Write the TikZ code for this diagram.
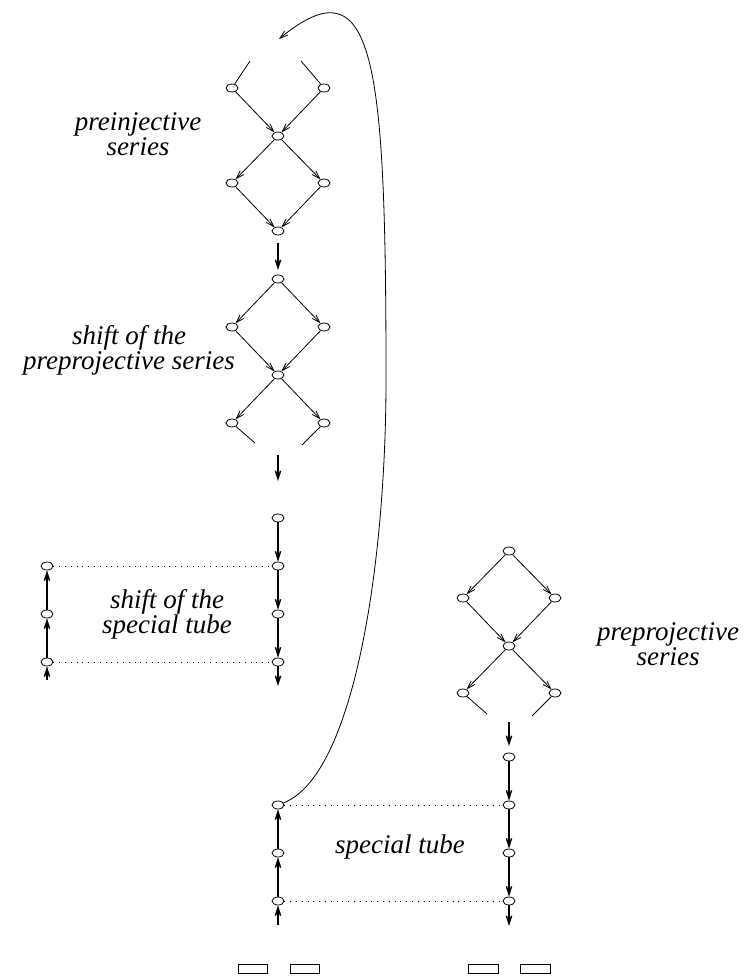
\documentclass[tikz,border=0pt]{standalone}
\usepackage{fontspec}
\setmainfont{Liberation Serif}
\usetikzlibrary{arrows.meta,shapes.geometric}

\begin{document}
\begin{tikzpicture}[x=0.5pt,y=-0.5pt,
    vtx/.style={draw,ellipse,inner sep=0pt,minimum width=6pt,minimum height=4pt,line width=0.4pt},
    arr/.style={-{Straight Barb[length=4pt,width=2.6pt]},line width=0.4pt},
    tubearr/.style={-{Straight Barb[length=4pt,width=2.6pt]},line width=0.7pt},
    link/.style={line width=0.5pt,dash pattern=on 0.5pt off 2.4pt},
    lbl/.style={font=\fontsize{13.5}{12.5}\selectfont\itshape,align=center}]
  \useasboundingbox (0,0) rectangle (747,978);

  % preinjective series
  \node[vtx] (i1) at (232,88) {};
  \node[vtx] (i2) at (324,88) {};
  \node[vtx] (i3) at (278,136) {};
  \node[vtx] (i4) at (232,183) {};
  \node[vtx] (i5) at (324,183) {};
  \node[vtx] (i6) at (278,231) {};
  \coordinate (i1t) at (250,61);
  \coordinate (i2t) at (301,61);
  \draw[line width=0.4pt] (i1t) -- (i1);
  \draw[line width=0.4pt] (i2t) -- (i2);
  \draw[arr] (i1) -- (i3);
  \draw[arr] (i2) -- (i3);
  \draw[arr] (i3) -- (i4);
  \draw[arr] (i3) -- (i5);
  \draw[arr] (i4) -- (i6);
  \draw[arr] (i5) -- (i6);
  \coordinate (ia) at (278,243);
  \coordinate (ib) at (278,270);
  \draw[tubearr] (ia) -- (ib);
  \node[lbl] (preinj) at (138,134) {preinjective\\series};

  % shift of the preprojective series
  \node[vtx] (p1) at (278,279) {};
  \node[vtx] (p2) at (232,327) {};
  \node[vtx] (p3) at (324,327) {};
  \node[vtx] (p4) at (278,375) {};
  \node[vtx] (p5) at (232,423) {};
  \node[vtx] (p6) at (324,423) {};
  \draw[arr] (p1) -- (p2);
  \draw[arr] (p1) -- (p3);
  \draw[arr] (p2) -- (p4);
  \draw[arr] (p3) -- (p4);
  \draw[arr] (p4) -- (p5);
  \draw[arr] (p4) -- (p6);
  \coordinate (p5b) at (255,443);
  \coordinate (p6b) at (302,445);
  \draw[line width=0.4pt] (p5) -- (p5b);
  \draw[line width=0.4pt] (p6) -- (p6b);
  \coordinate (pa) at (278,455);
  \coordinate (pb) at (278,481);
  \draw[tubearr] (pa) -- (pb);
  \node[lbl] (shiftpre) at (129,350) {shift of the\\preprojective series};

  % shift of the special tube
  \node[vtx] (s0) at (278,518) {};
  \node[vtx] (s1) at (278,566) {};
  \node[vtx] (s2) at (278,614) {};
  \node[vtx] (s3) at (278,662) {};
  \coordinate (sb) at (278,686);
  \draw[tubearr] (s0) -- (s1);
  \draw[tubearr] (s1) -- (s2);
  \draw[tubearr] (s2) -- (s3);
  \draw[tubearr] (s3) -- (sb);
  \node[vtx] (t1) at (47,566) {};
  \node[vtx] (t2) at (47,614) {};
  \node[vtx] (t3) at (47,662) {};
  \coordinate (tb) at (47,680);
  \draw[tubearr] (tb) -- (t3);
  \draw[tubearr] (t3) -- (t2);
  \draw[tubearr] (t2) -- (t1);
  \draw[link] (t1) -- (s1);
  \draw[link] (t3) -- (s3);
  \node[lbl] (shifttube) at (167,614) {shift of the\\special tube};

  % preprojective series
  \node[vtx] (q1) at (509,551) {};
  \node[vtx] (q2) at (463,598) {};
  \node[vtx] (q3) at (555,598) {};
  \node[vtx] (q4) at (509,646) {};
  \node[vtx] (q5) at (463,693) {};
  \node[vtx] (q6) at (555,693) {};
  \draw[arr] (q1) -- (q2);
  \draw[arr] (q1) -- (q3);
  \draw[arr] (q2) -- (q4);
  \draw[arr] (q3) -- (q4);
  \draw[arr] (q4) -- (q5);
  \draw[arr] (q4) -- (q6);
  \coordinate (q5b) at (487,714);
  \coordinate (q6b) at (532,716);
  \draw[line width=0.4pt] (q5) -- (q5b);
  \draw[line width=0.4pt] (q6) -- (q6b);
  \coordinate (qa) at (509,722);
  \coordinate (qb) at (509,746);
  \draw[tubearr] (qa) -- (qb);
  \node[lbl] (preproj) at (668,644) {preprojective\\series};

  % special tube
  \node[vtx] (r0) at (509,757) {};
  \node[vtx] (r1) at (509,805) {};
  \node[vtx] (r2) at (509,853) {};
  \node[vtx] (r3) at (509,901) {};
  \coordinate (rb) at (509,926);
  \draw[tubearr] (r0) -- (r1);
  \draw[tubearr] (r1) -- (r2);
  \draw[tubearr] (r2) -- (r3);
  \draw[tubearr] (r3) -- (rb);
  \node[vtx] (u1) at (278,805) {};
  \node[vtx] (u2) at (278,853) {};
  \node[vtx] (u3) at (278,901) {};
  \coordinate (ub) at (278,925);
  \draw[tubearr] (ub) -- (u3);
  \draw[tubearr] (u3) -- (u2);
  \draw[tubearr] (u2) -- (u1);
  \draw[link] (u1) -- (r1);
  \draw[link] (u3) -- (r3);
  \node[lbl] (tube) at (400,847) {special tube};

  % back to the top
  \coordinate (top) at (279,39);
  \draw[arr] (u1) .. controls (355,775) and (386,560) .. (386,380)
    .. controls (386,60) and (375,-40) .. (top);

  % boxes at the bottom
  \draw[line width=0.4pt] (238,964) rectangle (267,973);
  \draw[line width=0.4pt] (290,964) rectangle (319,973);
  \draw[line width=0.4pt] (468,964) rectangle (498,973);
  \draw[line width=0.4pt] (520,964) rectangle (550,973);
\end{tikzpicture}
\end{document}
